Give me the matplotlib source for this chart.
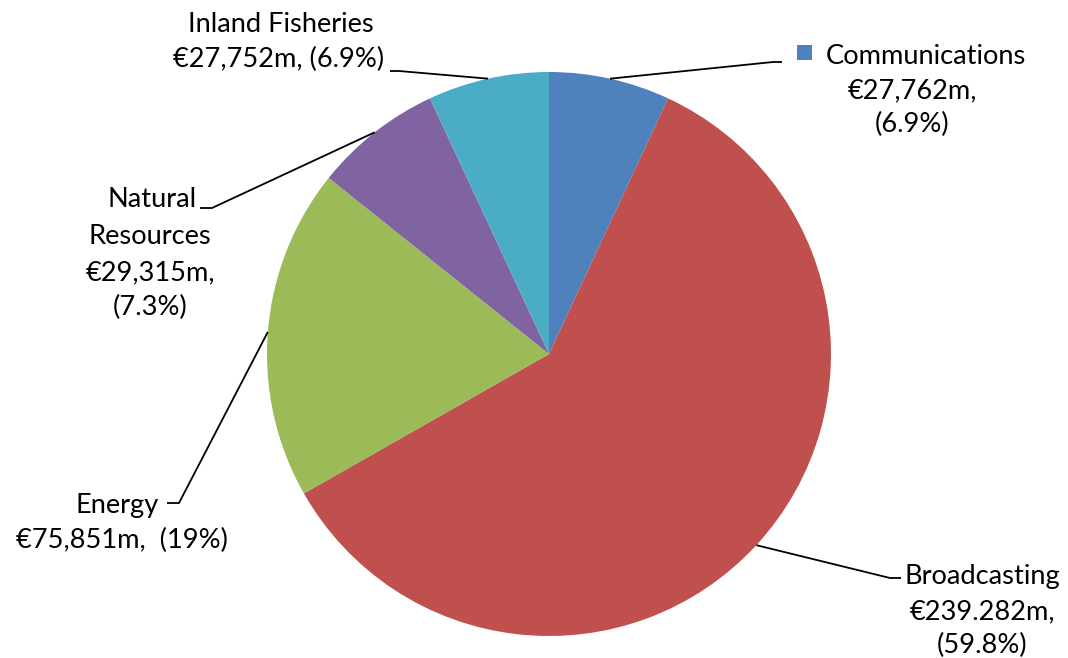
import matplotlib
matplotlib.use("Agg")
import matplotlib.pyplot as plt
import numpy as np
from matplotlib.patches import Rectangle

# ---- data ----
categories = ["Communications", "Broadcasting", "Energy", "Natural Resources", "Inland Fisheries"]
values = [27.762, 239.282, 75.851, 29.315, 27.752]
value_labels = ["€27,762m,", "€239.282m,", "€75,851m,", "€29,315m,", "€27,752m,"]
pct_labels = ["(6.9%)", "(59.8%)", "(19%)", "(7.3%)", "(6.9%)"]
colors = ["#4F81BD", "#C0504D", "#9BBB59", "#8064A2", "#4BACC6"]

W, H = 1068, 658
plt.rcParams['font.family'] = ['Lato', 'DejaVu Sans']

fig = plt.figure(figsize=(W / 100, H / 100), dpi=100)
ax = fig.add_axes([0, 0, 1, 1])

def Y(y):  # pixel (top-down) -> data (bottom-up)
    return H - y

cx, cy, R = 549, Y(354), 282
wedges, _ = ax.pie(values, colors=colors, startangle=90, counterclock=False,
                   center=(cx, cy), radius=R, wedgeprops=dict(linewidth=0))
ax.set_xlim(0, W)
ax.set_ylim(0, H)
ax.set_aspect('equal')
ax.axis('off')

# auto-fit font size so "Communications" spans ~201 px
renderer = fig.canvas.get_renderer()
t = ax.text(0, 0, "Communications", fontsize=20)
w = t.get_window_extent(renderer).width
t.remove()
fs = 20 * 201 / w

def line_text(x, y, s, ha='center'):
    ax.text(x, Y(y), s, fontsize=fs, ha=ha, va='baseline', color='black')

# leader elbows (pixel layout coords): (elbow, end)
elbows = [((773, 62), (782, 62)),
          ((890, 578), (901, 578)),
          ((179, 503), (167, 503)),
          ((212, 208), (200, 208)),
          ((399, 71), (390, 71))]
for wdg, (e1, e2) in zip(wedges, elbows):
    mid = np.deg2rad((wdg.theta1 + wdg.theta2) / 2)
    sx, sy = cx + R * np.cos(mid), cy + R * np.sin(mid)
    ax.plot([sx, e1[0], e2[0]], [sy, Y(e1[1]), Y(e2[1])], color='black', lw=1.3,
            solid_capstyle='butt', solid_joinstyle='miter')

# Communications (with legend key)
ax.add_patch(Rectangle((797, Y(60)), 15, 15, color=colors[0], lw=0))
line_text(826, 64, categories[0], ha='left')
line_text(912, 98, value_labels[0])
line_text(912, 132, pct_labels[0])

# Broadcasting
line_text(982, 584, categories[1])
line_text(982, 619, value_labels[1])
line_text(982, 653, pct_labels[1])

# Energy
line_text(117, 513, categories[2])
line_text(122, 548, value_labels[2] + "  " + pct_labels[2])

# Natural Resources
line_text(152, 207, "Natural")
line_text(150, 244, "Resources")
line_text(150, 280, value_labels[3])
line_text(150, 315, pct_labels[3])

# Inland Fisheries
line_text(281, 32, categories[4])
line_text(279, 67, value_labels[4] + " " + pct_labels[4])

fig.savefig("out.png", dpi=100)
